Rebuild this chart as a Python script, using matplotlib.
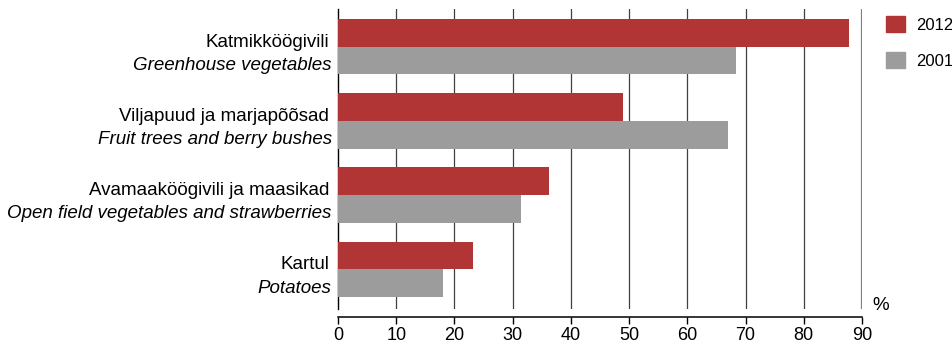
import numpy as np
import matplotlib.pyplot as plt
from matplotlib.patches import Patch

plt.rcParams['font.family'] = ['Liberation Sans', 'DejaVu Sans']

labels_et = ["Katmikköögivili", "Viljapuud ja marjapõõsad",
             "Avamaaköögivili ja maasikad", "Kartul"]
labels_en = ["Greenhouse vegetables", "Fruit trees and berry bushes",
             "Open field vegetables and strawberries", "Potatoes"]
years = ["2012", "2001"]
val_2012 = [87.8, 49.0, 36.2, 23.1]
val_2001 = [68.3, 67.0, 31.4, 18.0]
xticks = [0, 10, 20, 30, 40, 50, 60, 70, 80, 90]

red = '#b23535'
grey = '#9c9c9c'

fig = plt.figure(figsize=(9.53, 3.43), dpi=100)
ax = fig.add_axes([0.3547, 0.0991, 0.5498, 0.8747])

y = np.arange(len(labels_et))
h = 0.373
ax.barh(y - h / 2, val_2012, height=h, color=red, zorder=3)
ax.barh(y + h / 2, val_2001, height=h, color=grey, zorder=3)

ax.set_xlim(0, 90)
ax.set_ylim(3.535, -0.508)

# vertical grid lines
for t in xticks[1:]:
    if t == 90:
        ax.axvline(t, color='#808080', lw=1.6, zorder=1)
    else:
        ax.axvline(t, color='#404040', lw=0.9, zorder=1)

for s in ['top', 'right']:
    ax.spines[s].set_visible(False)
ax.spines['left'].set_color('black')
ax.spines['left'].set_linewidth(1.0)
ax.spines['bottom'].set_linewidth(1.1)
ax.spines['bottom'].set_position(('outward', 5.8))

ax.set_xticks(xticks)
ax.tick_params(axis='x', direction='out', length=5, width=1, labelsize=13, pad=2.5)
ax.set_yticks([])

for i in range(len(labels_et)):
    ax.annotate(labels_et[i], xy=(0, y[i]), xycoords=('axes fraction', 'data'),
                xytext=(-6.5, 0), textcoords='offset points',
                ha='right', va='baseline', fontsize=13.5)
    ax.annotate(labels_en[i], xy=(0, y[i]), xycoords=('axes fraction', 'data'),
                xytext=(-4.5, -16.8), textcoords='offset points',
                ha='right', va='baseline', fontsize=13.5, style='italic')

ax.text(881 / 953, 1 - 305 / 343, "%", transform=fig.transFigure, fontsize=13.5,
        ha='center', va='center')

handles = [Patch(color=red), Patch(color=grey)]
fig.legend(handles, years, loc='upper left', bbox_to_anchor=(886 / 953, 1 - 16 / 343),
           frameon=False, fontsize=12, handlelength=1.14, handleheight=1.14,
           labelspacing=1.15, handletextpad=0.65, borderaxespad=0, borderpad=0)

fig.savefig('out.png', dpi=100)
